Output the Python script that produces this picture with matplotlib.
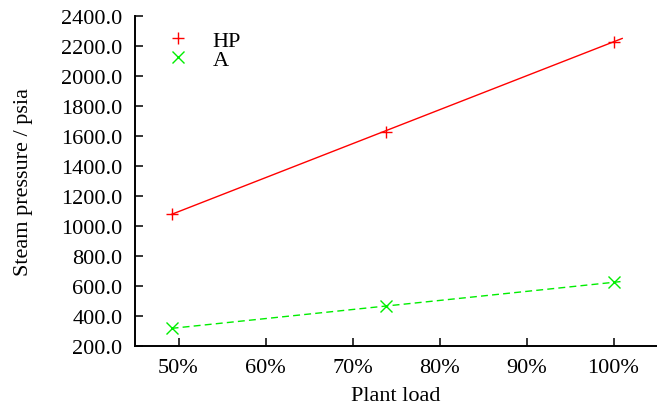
import matplotlib.pyplot as plt
import numpy as np

# Plant load (%) and steam pressure (psia) per pressure level
load = [49.2, 73.8, 100.0]
hp_pressure = [1080.0, 1630.0, 2230.0]
a_pressure = [318.0, 465.0, 625.0]

x_ticks = [50, 60, 70, 80, 90, 100]
y_ticks = [200, 400, 600, 800, 1000, 1200, 1400, 1600, 1800, 2000, 2200, 2400]

plt.rcParams['font.family'] = ['Liberation Serif', 'DejaVu Serif']
fs = 16

fig = plt.figure(figsize=(6.57, 4.10), dpi=100)
ax = fig.add_axes([0.2055, 0.1537, 0.7945, 0.8048])

# Fitted lines drawn slightly past the measured range
x_fit = np.linspace(min(load), 101.0, 50)
hp_fit = np.polyval(np.polyfit(load, hp_pressure, 1), x_fit)
a_fit = np.polyval(np.polyfit(load, a_pressure, 1), x_fit)

ax.plot(x_fit, hp_fit, color='#ff0000', lw=1.0)
ax.plot(x_fit, a_fit, color='#00ee00', lw=1.0, dashes=(5, 3))
ax.plot(load, hp_pressure, ls='none', marker='+', ms=9, mew=1.0,
        color='#ff0000', label='HP')
ax.plot(load, a_pressure, ls='none', marker='x', ms=8, mew=1.0,
        color='#00ee00', label='A')

ax.set_xlim(45, 105)
ax.set_ylim(200, 2400)
ax.set_xticks(x_ticks)
ax.set_xticklabels([f'{v}%' for v in x_ticks])
ax.set_yticks(y_ticks)
ax.set_yticklabels([f'{v:.1f}' for v in y_ticks])

for side in ('top', 'right'):
    ax.spines[side].set_visible(False)
for side in ('left', 'bottom'):
    ax.spines[side].set_linewidth(1.4)

ax.tick_params(direction='in', length=6, width=1.1, labelsize=fs)
ax.tick_params(axis='y', pad=9)
ax.tick_params(axis='x', pad=9)

ax.set_xlabel('Plant load', fontsize=fs, labelpad=6)
ax.set_ylabel('Steam pressure / psia', fontsize=fs, labelpad=20)

ax.legend(loc='upper left', bbox_to_anchor=(0.061, 0.957), frameon=False,
          fontsize=fs, handlelength=1.0, handletextpad=1.05,
          labelspacing=-0.06, borderaxespad=0, borderpad=0)

plt.savefig('out.png', dpi=100)
plt.close(fig)
